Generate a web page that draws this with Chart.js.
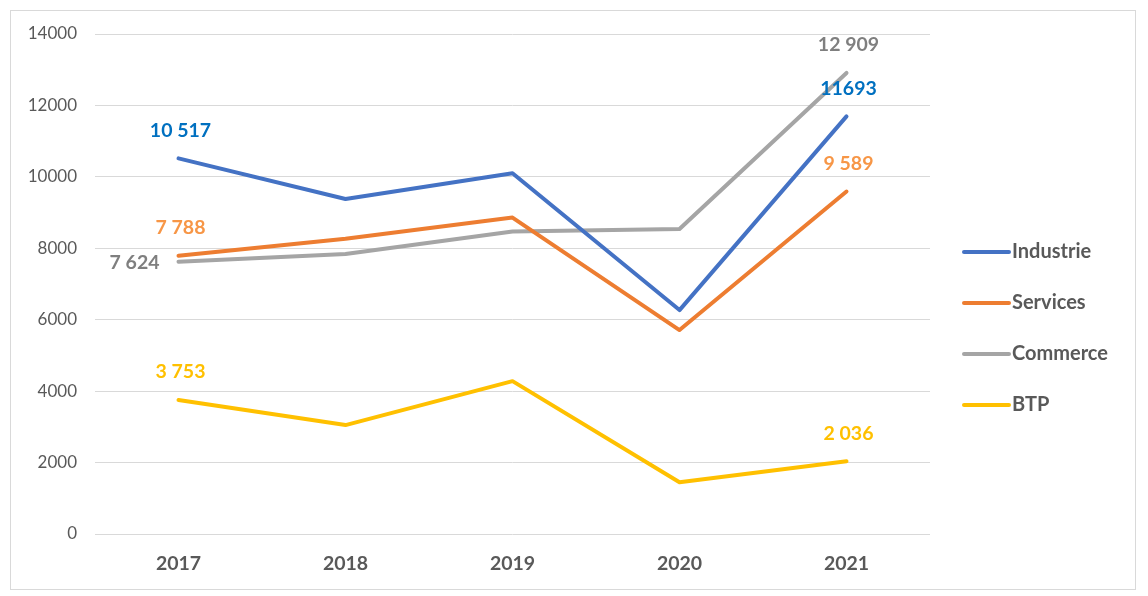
<!DOCTYPE html>
<html>
<head>
<meta charset="utf-8">
<script src="https://cdn.jsdelivr.net/npm/chart.js@4.4.0/dist/chart.umd.min.js"></script>
<style>
  body { margin: 0; background: #fff; }
  #box {
    position: absolute; left: 10px; top: 10px;
    width: 1124px; height: 578px;
    border: 1px solid #d9d9d9;
  }
</style>
</head>
<body>
<div id="box"><canvas id="chart" width="1124" height="578"></canvas></div>
<script>
const years = ['2017', '2018', '2019', '2020', '2021'];

const industrie = [10517, 9380, 10100, 6270, 11693];
const services = [7788, 8270, 8860, 5710, 9589];
const commerce = [7624, 7840, 8470, 8540, 12909];
const btp = [3753, 3050, 4280, 1450, 2036];

// texts of the value labels, as printed on the picture
const industrieLabels = ['10 517', null, null, null, '11693'];
const servicesLabels = ['7 788', null, null, null, '9 589'];
const commerceLabels = ['7 624', null, null, null, '12 909'];
const btpLabels = ['3 753', null, null, null, '2 036'];

const FONT = 'Lato, "Open Sans", sans-serif';
const TEXT = '#595959';

function line(label, data, color, labels, labelColor, labelSide) {
  return {
    label: label,
    data: data,
    borderColor: color,
    backgroundColor: color,
    borderWidth: 4,
    borderCapStyle: 'round',
    borderJoinStyle: 'round',
    tension: 0,
    pointRadius: 0,
    pointHoverRadius: 0,
    valueLabels: labels,
    labelColor: labelColor,
    labelSide: labelSide
  };
}

const valueLabels = {
  id: 'valueLabels',
  afterDatasetsDraw(chart) {
    const ctx = chart.ctx;
    ctx.save();
    ctx.font = 'bold 19.5px ' + FONT;
    chart.data.datasets.forEach((ds, i) => {
      const meta = chart.getDatasetMeta(i);
      ds.valueLabels.forEach((txt, j) => {
        if (!txt) return;
        const p = meta.data[j];
        const side = (j === 0 ? ds.labelSide : 'top');
        ctx.fillStyle = ds.labelColor;
        ctx.textBaseline = 'middle';
        if (side === 'left') {
          ctx.textAlign = 'right';
          ctx.fillText(txt, p.x - 19, p.y + 1);
        } else {
          ctx.textAlign = 'center';
          ctx.fillText(txt, p.x + 2, p.y - 28);
        }
      });
    });
    ctx.restore();
  }
};

const sideLegend = {
  id: 'sideLegend',
  afterDraw(chart) {
    const ctx = chart.ctx;
    ctx.save();
    ctx.font = 'bold 20px ' + FONT;
    ctx.textBaseline = 'middle';
    ctx.textAlign = 'left';
    chart.data.datasets.forEach((ds, i) => {
      const y = 241 + i * 51;
      ctx.strokeStyle = ds.borderColor;
      ctx.lineWidth = 4;
      ctx.lineCap = 'round';
      ctx.beginPath();
      ctx.moveTo(953, y);
      ctx.lineTo(998, y);
      ctx.stroke();
      ctx.fillStyle = TEXT;
      ctx.fillText(ds.label, 1001, y);
    });
    ctx.restore();
  }
};

new Chart(document.getElementById('chart'), {
  type: 'line',
  data: {
    labels: years,
    datasets: [
      line('Industrie', industrie, '#4472C4', industrieLabels, '#0070C0', 'top'),
      line('Services', services, '#ED7D31', servicesLabels, '#F79646', 'top'),
      line('Commerce', commerce, '#A5A5A5', commerceLabels, '#7F7F7F', 'left'),
      line('BTP', btp, '#FFC000', btpLabels, '#FFC000', 'top')
    ]
  },
  options: {
    responsive: false,
    animation: false,
    layout: { padding: { top: 23, right: 205, left: 0, bottom: 0 } },
    plugins: {
      legend: { display: false },
      tooltip: { enabled: false }
    },
    scales: {
      x: {
        offset: true,
        grid: { display: false, drawTicks: false },
        border: { display: false },
        ticks: { color: TEXT, font: { family: FONT, size: 19.5, weight: 'bold' }, padding: 18 },
        afterFit(s) { s.height = 55; }
      },
      y: {
        min: 0,
        max: 14000,
        ticks: {
          stepSize: 2000,
          color: TEXT,
          font: { family: FONT, size: 17 },
          padding: 18,
          callback: v => String(v)
        },
        grid: { color: '#d9d9d9', lineWidth: 1, drawTicks: false },
        border: { display: false },
        afterFit(s) {
          s.width = 84;
          s.paddingTop = 0;
          s.paddingBottom = 0;
        }
      }
    }
  },
  plugins: [valueLabels, sideLegend]
});
</script>
</body>
</html>
